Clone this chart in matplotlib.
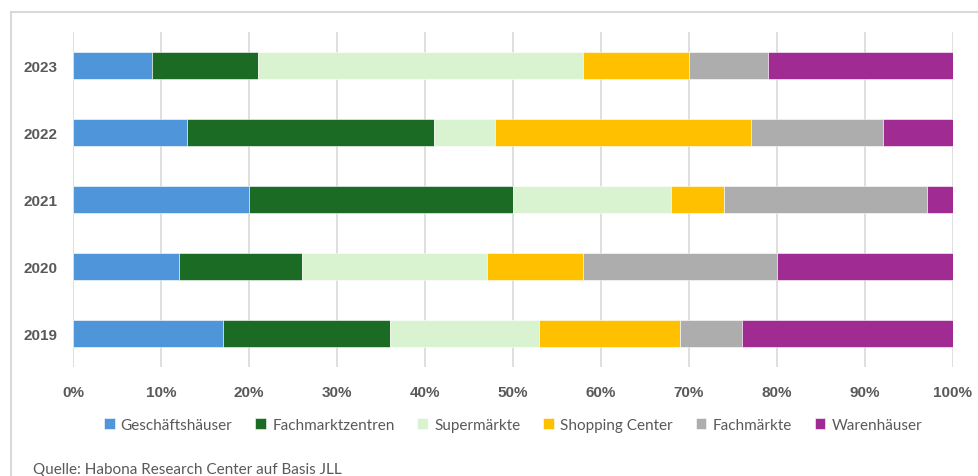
import matplotlib
matplotlib.use('Agg')
import matplotlib.pyplot as plt
from matplotlib.patches import Rectangle
import numpy as np

years = ['2019', '2020', '2021', '2022', '2023']
categories = ['Geschäftshäuser', 'Fachmarktzentren', 'Supermärkte',
              'Shopping Center', 'Fachmärkte', 'Warenhäuser']
colors = ['#4E95D9', '#1B6B24', '#D9F2D0', '#FFC000', '#ADADAD', '#A02B93']

# shares in percent, one list per category, years 2019..2023
geschaeftshaeuser = [17, 12, 20, 13, 9]
fachmarktzentren = [19, 14, 30, 28, 12]
supermaerkte = [17, 21, 18, 7, 37]
shopping_center = [16, 11, 6, 29, 12]
fachmaerkte = [7, 22, 23, 15, 9]
warenhaeuser = [24, 20, 3, 8, 21]

series = [geschaeftshaeuser, fachmarktzentren, supermaerkte,
          shopping_center, fachmaerkte, warenhaeuser]

plt.rcParams['font.family'] = ['Lato', 'DejaVu Sans']

W, H = 979, 477
fig = plt.figure(figsize=(W / 100, H / 100), dpi=100)
ax = fig.add_axes([73 / W, 1 - 368 / H, (953 - 73) / W, (368 - 33) / H])

# outer frame of the chart
fig.patches.append(Rectangle((11 / W, -0.02), 1.0, 1 - 13 / H + 0.02,
                             transform=fig.transFigure, fill=False,
                             edgecolor='#D9D9D9', linewidth=1.5))

y = np.arange(len(years))
left = np.zeros(len(years))
for name, vals, c in zip(categories, series, colors):
    vals = np.array(vals, dtype=float)
    ax.barh(y, vals, left=left, height=0.4, color=c, label=name,
            edgecolor='white', linewidth=0.4, zorder=3)
    left += vals

tick_font = dict(fontweight='bold', fontsize=11, color='#595959',
                 family=['Liberation Sans', 'DejaVu Sans'])
ax.set_xlim(0, 100)
ax.set_ylim(-0.5, 4.5)
ax.set_xticks(np.arange(0, 101, 10))
ax.set_xticklabels([f'{v}%' for v in range(0, 101, 10)], **tick_font)
ax.set_yticks(y)
ax.set_yticklabels(years, **tick_font)
ax.grid(axis='x', color='#D9D9D9', linewidth=1.2, zorder=0)
for s in ax.spines.values():
    s.set_visible(False)
ax.tick_params(axis='both', length=0)
ax.tick_params(axis='x', pad=13)
ax.tick_params(axis='y', pad=11)

leg = fig.legend(loc='center', bbox_to_anchor=(513 / W, 1 - 426 / H), ncol=6,
                 frameon=False, fontsize=11, handlelength=0.7,
                 handleheight=0.7, handletextpad=0.4, columnspacing=1.5)
for t in leg.get_texts():
    t.set_color('#595959')

fig.text(33 / W, 1 - 470 / H, 'Quelle: Habona Research Center auf Basis JLL',
         fontsize=11, color='#595959', va='center', ha='left')

fig.savefig('out.png', dpi=100)
